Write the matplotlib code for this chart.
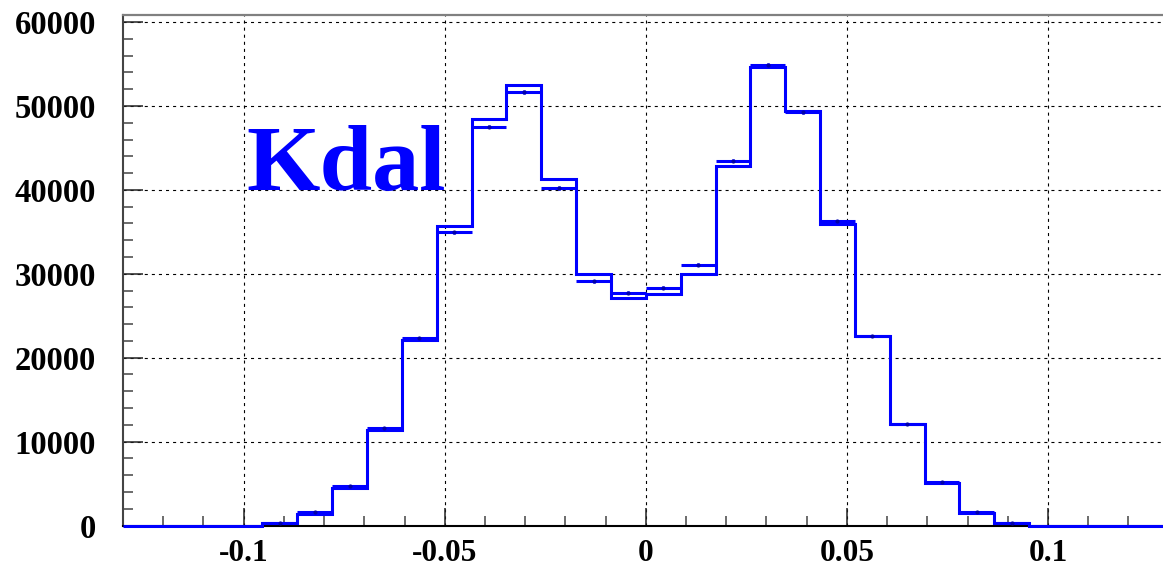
import numpy as np
import matplotlib
matplotlib.use('Agg')
import matplotlib.pyplot as plt
from matplotlib.ticker import MultipleLocator

#%%============================================================================
# Data
#==============================================================================

x_min, x_max, n_bins = -0.13, 0.13, 30

# step histogram
counts_hist = [0, 0, 0, 0, 250, 1400, 4450, 11350, 22100, 35700,
               48450, 52500, 41350, 29950, 27150, 27550, 29950, 42800, 54600, 49350,
               35950, 22600, 12100, 5100, 1500, 280, 0, 0, 0, 0]

# overlaid histogram drawn with error bars
counts_err = [0, 0, 0, 0, 300, 1550, 4700, 11650, 22300, 34950,
              47550, 51700, 40250, 29100, 27750, 28350, 31100, 43500, 54900, 49300,
              36250, 22600, 12150, 5150, 1550, 320, 0, 0, 0, 0]

label_text = "Kdal"
xticks = [-0.1, -0.05, 0, 0.05, 0.1]
xtick_labels = ["-0.1", "-0.05", "0", "0.05", "0.1"]
yticks = [0, 10000, 20000, 30000, 40000, 50000, 60000]

#%%============================================================================
# Figure setup
#==============================================================================

plt.rcParams['font.family'] = ['Liberation Serif', 'DejaVu Serif']
plt.rcParams['font.weight'] = 'bold'
plt.rcParams['lines.scale_dashes'] = False

fig = plt.figure(figsize=(11.63, 5.71), dpi=100)
ax = fig.add_axes([123/1163., 45.5/571., (1168.6-123)/1163., (556-45.5)/571.])

edges = np.linspace(x_min, x_max, n_bins + 1)
centers = 0.5 * (edges[:-1] + edges[1:])
half_w = 0.5 * (edges[1] - edges[0])

blue = '#0000ff'

# step histogram (not clipped so the zero level shows on the x axis)
ax.stairs(counts_hist, edges, baseline=None, color=blue, lw=2.2, zorder=3,
          clip_on=False)

# error-bar histogram (only non-empty bins)
ce = np.array(counts_err, dtype=float)
nz = ce > 0
ax.errorbar(centers[nz], ce[nz], xerr=half_w, yerr=np.sqrt(ce[nz]),
            fmt='o', ms=2, color=blue, mec='#0000aa', mfc='#0000aa',
            elinewidth=2.2, capsize=0, zorder=4)

ax.text(-0.0992, 40000, label_text, color=blue, fontsize=68,
        fontweight='bold', ha='left', va='baseline', zorder=5)

#%%============================================================================
# Axes styling
#==============================================================================

ax.set_xlim(x_min, x_max)
ax.set_ylim(0, 60850)

ax.set_xticks(xticks)
ax.set_xticklabels(xtick_labels)
ax.set_yticks(yticks)
ax.xaxis.set_minor_locator(MultipleLocator(0.01))
ax.yaxis.set_minor_locator(MultipleLocator(2000))

ax.tick_params(axis='x', which='major', direction='in', length=13, width=1.1,
               labelsize=22.5, pad=10, color='#222222')
ax.tick_params(axis='x', which='minor', direction='in', length=7, width=1.1,
               color='#444444')
ax.tick_params(axis='y', which='major', direction='in', length=14.5, width=1.1,
               labelsize=23.5, pad=19.5, color='#222222')
ax.tick_params(axis='y', which='minor', direction='in', length=7, width=1.1,
               color='#444444')

ax.grid(True, which='major', color='black', lw=0.8, linestyle=(0, (2.2, 2.9)))
ax.set_axisbelow(True)

ax.spines['left'].set_color('#444444')
ax.spines['left'].set_linewidth(1.5)
ax.spines['top'].set_color('#808080')
ax.spines['top'].set_linewidth(1.6)
ax.spines['bottom'].set_color('black')
ax.spines['bottom'].set_linewidth(1.5)
ax.spines['right'].set_visible(False)

fig.savefig('out.png', dpi=100)
